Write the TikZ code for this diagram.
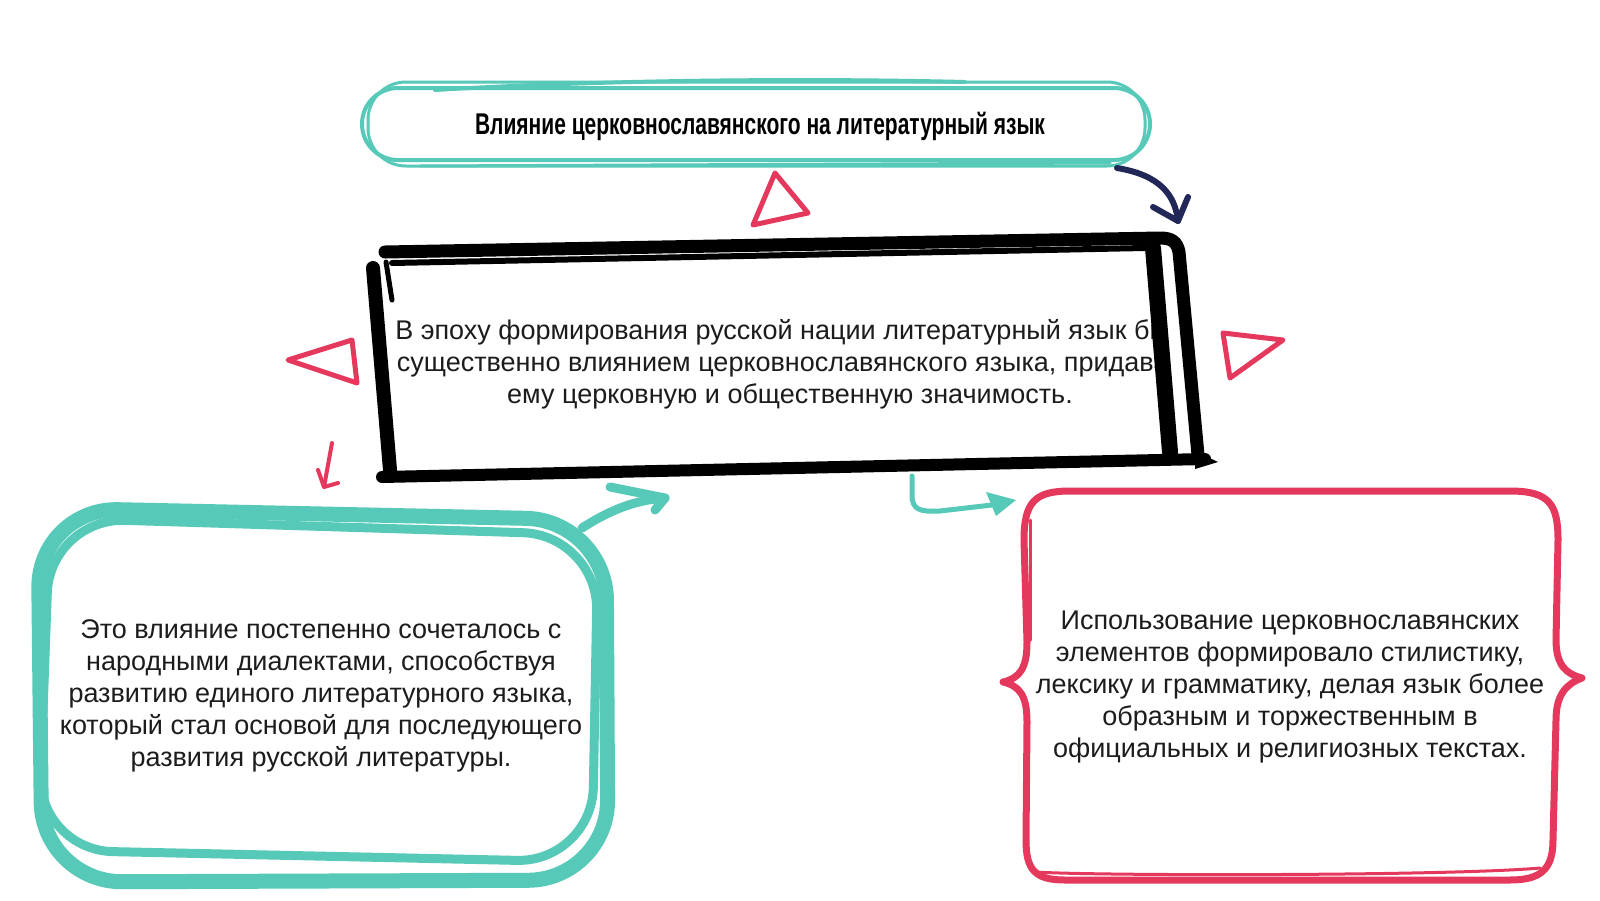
\documentclass[tikz,border=0pt]{standalone}
\usepackage{fontspec}
\setmainfont{Liberation Sans}
\newfontfamily\titlefont{Liberation Sans}
\usetikzlibrary{arrows.meta}
\definecolor{tealc}{RGB}{86,201,184}
\definecolor{pinkc}{RGB}{228,56,93}
\definecolor{navyc}{RGB}{33,40,88}
\definecolor{txtc}{RGB}{28,28,28}
\tikzset{
  bodytext/.style={align=center, text=txtc, font=\fontsize{27}{32}\selectfont},
  tealline/.style={draw=tealc, line cap=round, line join=round},
  pinkline/.style={draw=pinkc, line cap=round, line join=round},
  blackline/.style={draw=black, line cap=round, line join=round},
  tri/.style={draw=pinkc, line width=5pt, line join=round, line cap=round},
}
\begin{document}
\begin{tikzpicture}[x=1pt,y=-1pt]
\useasboundingbox[fill=white] (0,0) rectangle (1600,900);

% ---------- title box ----------
\draw[tealline, line width=4pt, rounded corners=36pt] (362,88) rectangle (1150,160);
\draw[tealline, line width=3pt, rounded corners=38pt] (368,82) rectangle (1145,166);
\draw[tealline, line width=4pt] (435,90) .. controls (600,80) and (800,78) .. (965,82);
\draw[tealline, line width=3pt] (420,166) -- (1110,163);
\node[font=\titlefont\bfseries\fontsize{30}{34}\selectfont, text=black] (title) at (760,126)
  {\scalebox{0.7}[1]{Влияние церковнославянского на литературный язык}};

% ---------- central text ----------
\begin{scope}
\clip (376,240) rectangle (1158,480);
\node[bodytext] (center) at (790,364) {В эпоху формирования русской нации литературный язык был\\
существенно влиянием церковнославянского языка, придавая\\
ему церковную и общественную значимость.};
\end{scope}

% ---------- central black box ----------
\draw[blackline, line width=13pt] (385,252) -- (1160,238) .. controls (1172,238) and (1177,242) .. (1179,252) -- (1198,455);
\draw[blackline, line width=6pt] (392,263) -- (1145,248);
\draw[blackline, line width=16pt] (1153,248) -- (1170,452);
\draw[blackline, line width=14pt] (373,268) -- (390,470);
\draw[blackline, line width=5pt] (386,262) -- (392,300);
\draw[blackline, line width=12pt] (382,477) -- (1205,459);
\fill[black] (1195,451) -- (1218,462) -- (1195,469) -- cycle;

% ---------- triangles ----------
\draw[tri] (775,173) -- (808,213) -- (753,225) -- cycle;
\draw[tri] (288,360) -- (352,340) -- (357,383) -- cycle;
\draw[tri] (1223,333) -- (1283,340) -- (1230,378) -- cycle;

% ---------- arrows ----------
\coordinate (n1) at (1117,168);
\coordinate (n2) at (1178,221);
\draw[draw=navyc, line width=6pt, line cap=round] (n1) .. controls (1160,175) and (1175,195) .. (n2);
\draw[draw=navyc, line width=6pt, line cap=round, line join=round] (1153,207) -- (n2) -- (1188,197);

\coordinate (p1) at (332,443);
\coordinate (p2) at (324,487);
\draw[pinkline, line width=4pt] (p1) -- (p2);
\draw[pinkline, line width=4pt] (318,470) -- (p2) -- (338,483);

\coordinate (t1) at (582,528);
\coordinate (t2) at (665,498);
\draw[tealline, line width=9pt] (t1) .. controls (610,510) and (635,500) .. (t2);
\draw[tealline, line width=9pt] (610,487) -- (t2) -- (655,510);

\coordinate (s1) at (912,476);
\coordinate (s2) at (1016,500);
\draw[tealline, line width=5pt] (s1) -- (912,495) .. controls (912,510) and (920,512) .. (940,511) -- (992,505);
\fill[tealc] (986,492) -- (s2) -- (996,516) -- cycle;

% ---------- left teal box ----------
\draw[tealline, line width=15pt, rounded corners=80pt] (38,508) -- (606,520) -- (608,880) -- (42,882) -- cycle;
\draw[tealline, line width=9pt, rounded corners=75pt] (50,518) -- (598,535) -- (592,862) -- (38,850) -- cycle;
\node[bodytext] (left) at (321,696) {Это влияние постепенно сочеталось с\\
народными диалектами, способствуя\\
развитию единого литературного языка,\\
который стал основой для последующего\\
развития русской литературы.};

% ---------- right pink box ----------
\draw[pinkline, line width=7pt] (1024,540) .. controls (1024,502) and (1035,491) .. (1070,491) -- (1510,491)
  .. controls (1550,491) and (1558,505) .. (1558,540) -- (1556,640)
  .. controls (1556,665) and (1566,674) .. (1582,678)
  .. controls (1566,684) and (1556,695) .. (1556,720) -- (1553,840)
  .. controls (1553,870) and (1540,880) .. (1510,880) -- (1065,880)
  .. controls (1035,880) and (1026,870) .. (1026,840) -- (1027,722)
  .. controls (1027,696) and (1020,686) .. (1003,682)
  .. controls (1020,678) and (1027,668) .. (1027,642) -- cycle;
\draw[pinkline, line width=3pt] (1030,520) -- (1030,640);
\draw[pinkline, line width=3pt] (1035,872) .. controls (1100,876) and (1450,876) .. (1540,868);
\node[bodytext] (right) at (1290,687) {Использование церковнославянских\\
элементов формировало стилистику,\\
лексику и грамматику, делая язык более\\
образным и торжественным в\\
официальных и религиозных текстах.};
\end{tikzpicture}
\end{document}
